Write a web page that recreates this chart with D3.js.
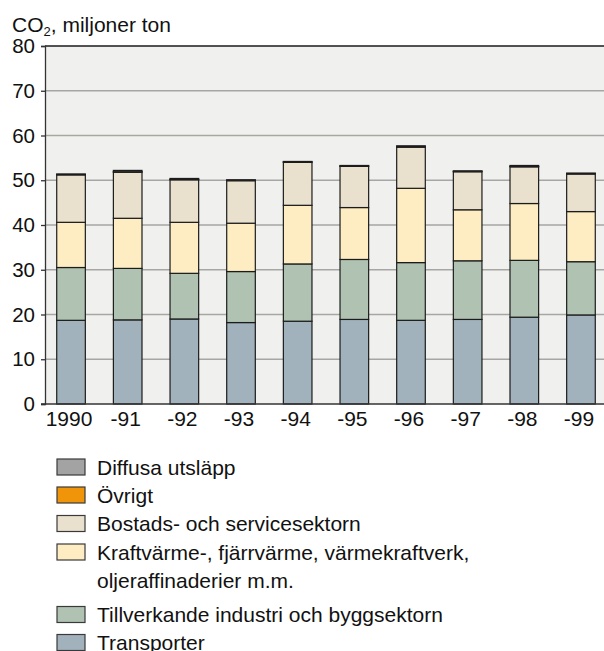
<!DOCTYPE html>
<html>
<head>
<meta charset="utf-8">
<script src="https://cdn.jsdelivr.net/npm/d3@7"></script>
<style>
  html, body { margin: 0; padding: 0; background: #fff; }
  svg { display: block; font-family: Arial, "Liberation Sans", Helvetica, sans-serif; }
</style>
</head>
<body>
<svg id="chart" width="604" height="651"></svg>
<script>
// Utsläpp av koldioxid per sektor, miljoner ton
const years = ["1990", "-91", "-92", "-93", "-94", "-95", "-96", "-97", "-98", "-99"];
const transporter = [18.7, 18.8, 19.0, 18.2, 18.5, 18.9, 18.7, 18.9, 19.4, 19.9];
const industri    = [11.8, 11.5, 10.2, 11.4, 12.8, 13.4, 12.9, 13.1, 12.7, 11.9];
const kraftvarme  = [10.1, 11.2, 11.4, 10.8, 13.1, 11.6, 16.6, 11.4, 12.7, 11.2];
const bostader    = [10.6, 10.3,  9.5,  9.5,  9.6,  9.2,  9.2,  8.5,  8.2,  8.4];
const ovrigt      = [0.1, 0.1, 0.1, 0.1, 0.1, 0.1, 0.1, 0.1, 0.1, 0.1];
const diffusa     = [0.1, 0.3, 0.2, 0.1, 0.1, 0.1, 0.2, 0.1, 0.2, 0.1];
const yTicks = [0, 10, 20, 30, 40, 50, 60, 70, 80];

const seriesKeys = ["transporter", "industri", "kraftvarme", "bostader", "ovrigt", "diffusa"];
const seriesColors = {
  transporter: "#a1b2bc",
  industri:    "#b0c3b2",
  kraftvarme:  "#feedc2",
  bostader:    "#e9e1cd",
  ovrigt:      "#f0950a",
  diffusa:     "#a3a3a3"
};
const legendItems = [
  { key: "diffusa",     lines: ["Diffusa utsläpp"] },
  { key: "ovrigt",      lines: ["Övrigt"] },
  { key: "bostader",    lines: ["Bostads- och servicesektorn"] },
  { key: "kraftvarme",  lines: ["Kraftvärme-, fjärrvärme, värmekraftverk,", "oljeraffinaderier m.m."] },
  { key: "industri",    lines: ["Tillverkande industri och byggsektorn"] },
  { key: "transporter", lines: ["Transporter"] }
];

const table = years.map((y, i) => ({
  year: y,
  transporter: transporter[i],
  industri: industri[i],
  kraftvarme: kraftvarme[i],
  bostader: bostader[i],
  ovrigt: ovrigt[i],
  diffusa: diffusa[i]
}));

const svg = d3.select("#chart");
const plot = { left: 45, right: 604, top: 46, bottom: 404 };
const FONT = "Arial, 'Liberation Sans', sans-serif";

const x = d3.scaleBand()
  .domain(years)
  .range([42.7, 609.3])
  .paddingInner(0.495)
  .paddingOuter(0.2475);
const y = d3.scaleLinear().domain([0, 80]).range([plot.bottom, plot.top]);

// plot background
svg.append("rect")
  .attr("x", plot.left).attr("y", plot.top)
  .attr("width", plot.right - plot.left).attr("height", plot.bottom - plot.top)
  .attr("fill", "#f0f1ee");

// horizontal grid lines
svg.append("g")
  .selectAll("line")
  .data(yTicks.filter(t => t > 0 && t < 80))
  .join("line")
  .attr("x1", plot.left).attr("x2", plot.right)
  .attr("y1", d => y(d)).attr("y2", d => y(d))
  .attr("stroke", "#a6a6a4").attr("stroke-width", 1.5);

// top frame line
svg.append("line")
  .attr("x1", plot.left).attr("x2", plot.right)
  .attr("y1", y(80)).attr("y2", y(80))
  .attr("stroke", "#1a1a1a").attr("stroke-width", 1.5);

// stacked bars
const stack = d3.stack().keys(seriesKeys)(table);
svg.append("g")
  .selectAll("g")
  .data(stack)
  .join("g")
  .attr("fill", d => seriesColors[d.key])
  .selectAll("rect")
  .data(d => d)
  .join("rect")
  .attr("x", d => x(d.data.year))
  .attr("width", x.bandwidth())
  .attr("y", d => y(d[1]))
  .attr("height", d => y(d[0]) - y(d[1]))
  .attr("stroke", "#1c1c1c")
  .attr("stroke-width", 1.2);

// y axis
const yAxis = d3.axisLeft(y).tickValues(yTicks).tickSize(4).tickPadding(6);
const gy = svg.append("g").attr("transform", `translate(${plot.left},0)`).call(yAxis);
gy.select(".domain").attr("stroke", "#333").attr("stroke-width", 1.3);
gy.selectAll(".tick line").attr("stroke", "#333").attr("stroke-width", 1.3);
gy.selectAll(".tick text")
  .attr("font-size", 20.5).attr("fill", "#111")
  .attr("font-family", FONT);

// x axis
const xAxis = d3.axisBottom(x).tickSize(0).tickPadding(7);
const gx = svg.append("g").attr("transform", `translate(0,${plot.bottom})`).call(xAxis);
gx.select(".domain").remove();
gx.selectAll(".tick text")
  .attr("font-size", 21).attr("fill", "#111")
  .attr("dx", -2)
  .attr("font-family", FONT);
svg.append("line")
  .attr("x1", plot.left - 4).attr("x2", plot.right)
  .attr("y1", plot.bottom).attr("y2", plot.bottom)
  .attr("stroke", "#333").attr("stroke-width", 1.3);

// title
const title = svg.append("text")
  .attr("x", 12).attr("y", 32)
  .attr("font-size", 21).attr("fill", "#111")
  .attr("font-family", FONT);
title.append("tspan").text("CO");
title.append("tspan").text("2").attr("font-size", 13).attr("dy", 4);
title.append("tspan").text(", miljoner ton").attr("dy", -4);

// legend
const rowY = [467, 495, 523.5, 552, 614.5, 642.5];
const lg = svg.append("g").attr("font-family", FONT);
legendItems.forEach((item, i) => {
  const cy = rowY[i];
  lg.append("rect")
    .attr("x", 57).attr("y", cy - 8)
    .attr("width", 28).attr("height", 16)
    .attr("fill", seriesColors[item.key])
    .attr("stroke", "#3a3a3a").attr("stroke-width", 1.2);
  item.lines.forEach((ln, j) => {
    lg.append("text")
      .attr("x", 97).attr("y", cy + 7.5 + j * 28)
      .attr("font-size", 21).attr("fill", "#111")
      .text(ln);
  });
});
</script>
</body>
</html>
